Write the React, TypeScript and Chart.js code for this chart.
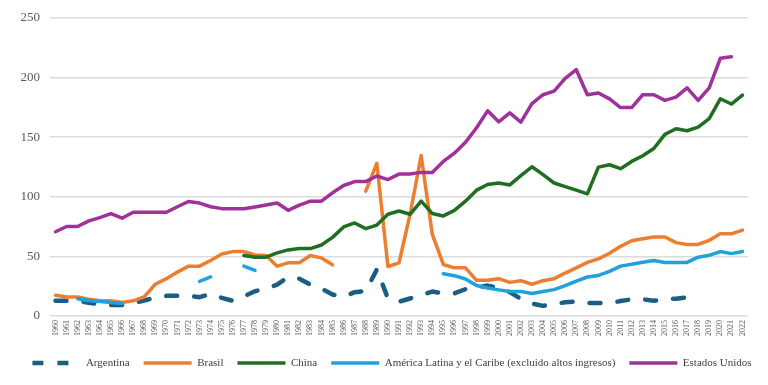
import React, { useEffect, useRef } from "react";
import { Chart, registerables } from "chart.js";

Chart.register(...registerables);

const years = [
  "1960", "1961", "1962", "1963", "1964", "1965", "1966", "1967", "1968", "1969",
  "1970", "1971", "1972", "1973", "1974", "1975", "1976", "1977", "1978", "1979",
  "1980", "1981", "1982", "1983", "1984", "1985", "1986", "1987", "1988", "1989",
  "1990", "1991", "1992", "1993", "1994", "1995", "1996", "1997", "1998", "1999",
  "2000", "2001", "2002", "2003", "2004", "2005", "2006", "2007", "2008", "2009",
  "2010", "2011", "2012", "2013", "2014", "2015", "2016", "2017", "2018", "2019",
  "2020", "2021", "2022",
];

const argentina = [
  12.7, 12.7, 13, 11, 9.8, 9.2, 9.2, 10.8, 13, 15.5,
  16.9, 16.9, 16.9, 15.8, 18.5, 15.2, 12.7, 16.5, 20.8, 23,
  26.3, 32.6, 31.3, 26.3, 23, 18, 16, 20, 21, 39,
  14.7, 12, 14.7, 17.5, 20.5, 19, 19, 22.5, 24, 25.5,
  23.5, 20, 14.5, 10.5, 8.5, 10, 11.5, 12.3, 11, 11,
  11, 12.5, 14, 14, 12.8, 14, 14.5, 15.5, null, null,
  null, null, null,
];

const brasil = [
  17.4, 16, 16, 14.1, 12.7, 12.7, 11.4, 12.7, 16, 26.6,
  31.3, 36.8, 41.8, 41.8, 46.5, 52, 54, 54, 51.2, 50.7,
  41.8, 44.6, 44.6, 50.7, 48.7, 42.9, null, null, 104.7, 128,
  41.5, 44.6, 85.3, 134.6, 68.7, 43.2, 40.4, 40.4, 29.9, 29.9,
  31.3, 28.2, 29.6, 26.6, 29.6, 31.3, 36, 40.4, 44.9, 47.9,
  52.6, 58.4, 63.1, 64.8, 66.2, 66.2, 61.5, 60, 60, 63.4,
  68.9, 68.9, 72,
];

const china = [
  null, null, null, null, null, null, null, null, null, null,
  null, null, null, null, null, null, null, 50.7, 49.3, 49.3,
  52.9, 55.4, 56.5, 56.5, 59.5, 65.9, 74.7, 78, 73.3, 76.2,
  85.3, 88, 85.3, 96.3, 86, 83.9, 88.6, 96.3, 105.5, 110.2,
  111.5, 109.9, 117.7, 125.1, 118.5, 111.5, 108.5, 105.5, 102.4, 124.8,
  126.8, 123.5, 129.6, 134.3, 140.4, 152.3, 157, 155.3, 158.4, 165.5,
  182.1, 177.7, 185.2,
];

const americaLatina = [
  null, null, 14.5, 13, 12.2, 11.4, 10.5, null, null, null,
  null, null, null, 29, 32.7, null, null, 41.8, 38.2, null,
  null, null, null, null, null, null, null, null, null, null,
  null, null, null, null, null, 35.4, 33.8, 31, 25.5, 23.5,
  21.9, 20.5, 20.5, 18.8, 20.5, 22.1, 25.5, 29.3, 32.7, 34,
  37.4, 41.8, 43.4, 45.1, 46.5, 44.9, 44.9, 44.9, 49.3, 50.9,
  54, 52.3, 54,
];

const estadosUnidos = [
  70.6, 75, 75, 79.7, 82.5, 85.8, 82, 87, 87, 87,
  87, 91.6, 96, 94.7, 91.6, 90, 90, 90, 91.4, 93,
  94.7, 88.6, 93, 96.3, 96.3, 103.3, 109.4, 112.7, 112.7, 117.4,
  114.4, 119, 119, 120.4, 120.4, 129.6, 136.5, 145.6, 157.8, 172,
  162.8, 170.3, 162.5, 178, 185.5, 188.5, 199.3, 206.5, 185.5, 187,
  182, 174.7, 174.7, 185.5, 185.5, 180.8, 183.5, 191.3, 180.8, 191.3,
  216, 217.3, null,
];

const yTicks = [0, 50, 100, 150, 200, 250];

const seriesNames = [
  "Argentina",
  "Brasil",
  "China",
  "América Latina y el Caribe (excluido altos ingresos)",
  "Estados Unidos",
];

const SERIF = "'Liberation Serif', 'Times New Roman', serif";

export default function App() {
  const ref = useRef<HTMLCanvasElement>(null);

  useEffect(() => {
    if (!ref.current) return;
    const solid = (label: string, data: (number | null)[], color: string, order: number) => ({
      label,
      data,
      borderColor: color,
      backgroundColor: color,
      borderWidth: 3.5,
      pointRadius: 0,
      pointHoverRadius: 0,
      tension: 0,
      spanGaps: false,
      borderJoinStyle: "round" as const,
      borderCapStyle: "round" as const,
      pointStyle: "line" as const,
      order,
    });
    const defaultGen = (Chart.defaults.plugins.legend.labels as any).generateLabels;
    const chart = new Chart(ref.current, {
      type: "line",
      data: {
        labels: years,
        datasets: [
          {
            ...solid(seriesNames[0], argentina, "#1b5e84", 4),
            borderWidth: 4.5,
            borderDash: [11, 17],
          },
          solid(seriesNames[1], brasil, "#ed7d31", 3),
          solid(seriesNames[2], china, "#1f6e21", 2),
          solid(seriesNames[3], americaLatina, "#1ea2dc", 1),
          solid(seriesNames[4], estadosUnidos, "#a0309a", 0),
        ],
      },
      options: {
        animation: false,
        responsive: true,
        maintainAspectRatio: false,
        layout: { padding: { left: 16, right: 0, top: 15, bottom: 6.5 } },
        plugins: {
          tooltip: { enabled: false },
          legend: {
            position: "bottom",
            fullSize: true,
            labels: {
              usePointStyle: true,
              pointStyleWidth: 48,
              padding: 14,
              color: "#404040",
              font: { family: SERIF, size: 11 },
              generateLabels: (c: any) => {
                const items = defaultGen(c);
                items.forEach((it: any) => {
                  if (it.datasetIndex === 0) it.lineDash = [11, 14];
                });
                return items;
              },
              sort: (a: any, b: any) => a.datasetIndex - b.datasetIndex,
            },
          },
        },
        scales: {
          x: {
            offset: true,
            grid: { display: false, drawTicks: false },
            border: { display: false },
            ticks: {
              autoSkip: false,
              maxRotation: 90,
              minRotation: 90,
              padding: 4,
              color: "#595959",
              font: { family: SERIF, size: 8 },
            },
            afterFit: (scale: any) => {
              scale.height = 27.5;
              scale.paddingLeft = 0;
              scale.paddingRight = 0;
            },
          },
          y: {
            min: 0,
            max: 250,
            afterBuildTicks: (scale: any) => {
              scale.ticks = yTicks.map((v) => ({ value: v }));
            },
            grid: { color: "#dcdcdc", lineWidth: 1.5, drawTicks: false },
            border: { display: false },
            ticks: {
              padding: 10,
              color: "#595959",
              font: { family: SERIF, size: 13 },
            },
            afterFit: (scale: any) => {
              scale.width = 34;
            },
          },
          yRight: {
            type: "linear",
            position: "right",
            display: true,
            grid: { display: false, drawTicks: false },
            border: { display: false },
            ticks: { display: false },
            afterFit: (scale: any) => {
              scale.width = 20;
              scale.paddingTop = 0;
              scale.paddingBottom = 0;
            },
          },
        },
      },
    });
    return () => chart.destroy();
  }, []);

  return (
    <div
      style={{
        position: "absolute",
        left: 0,
        top: 0,
        width: 768,
        height: 385,
        background: "#ffffff",
      }}
    >
      <canvas ref={ref} />
    </div>
  );
}
